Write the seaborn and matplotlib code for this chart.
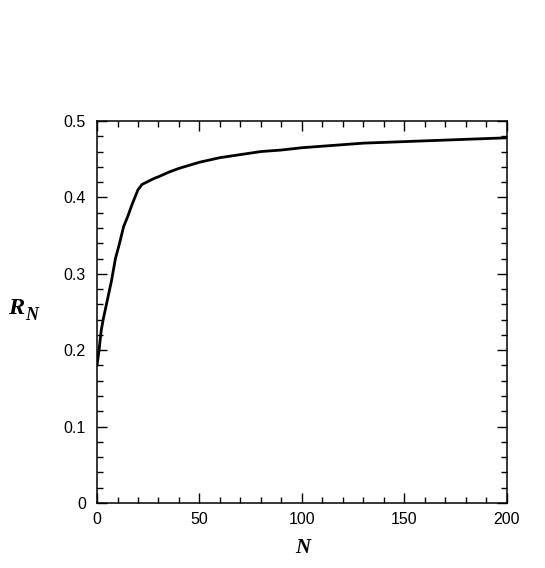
import numpy as np
import pandas as pd
import matplotlib
matplotlib.use("Agg")
import matplotlib.pyplot as plt
from matplotlib.ticker import MultipleLocator, FuncFormatter
import seaborn as sns

N_vals = [0, 1, 2, 3, 5, 7, 9, 11, 13, 15, 17, 20, 22, 25, 28, 30, 35, 40, 45, 50,
          55, 60, 70, 80, 90, 100, 110, 120, 130, 140, 150, 160, 170, 180, 190, 200]
R_vals = [0.18, 0.20, 0.225, 0.24, 0.265, 0.29, 0.32, 0.34, 0.362, 0.375, 0.39, 0.41,
          0.417, 0.421, 0.425, 0.427, 0.433, 0.438, 0.442, 0.446, 0.449, 0.452, 0.456,
          0.46, 0.462, 0.465, 0.467, 0.469, 0.471, 0.472, 0.473, 0.474, 0.475, 0.476,
          0.477, 0.478]

sns.set_style("ticks")
plt.rcParams['font.family'] = ['Liberation Sans', 'DejaVu Sans']
plt.rcParams['text.color'] = 'black'

df = pd.DataFrame({"N": N_vals, "R": R_vals})

W, H = 545, 568
fig = plt.figure(figsize=(W / 100, H / 100), dpi=100)
ax = fig.add_axes([0.178, 0.1144, 0.752, 0.6726])
sns.lineplot(data=df, x="N", y="R", ax=ax, color="black", linewidth=2.0)

ax.set_xlim(0, 200)
ax.set_ylim(0, 0.5)
ax.xaxis.set_major_locator(MultipleLocator(50))
ax.xaxis.set_minor_locator(MultipleLocator(10))
ax.yaxis.set_major_locator(MultipleLocator(0.1))
ax.yaxis.set_minor_locator(MultipleLocator(0.02))
ax.yaxis.set_major_formatter(FuncFormatter(lambda v, p: "0" if abs(v) < 1e-9 else f"{v:.1f}"))
ax.tick_params(which='both', direction='in', top=True, right=True, colors='black',
               labelsize=11.5, width=1.0)
ax.tick_params(axis='x', which='major', pad=6.5)
ax.tick_params(axis='y', which='major', pad=8)
ax.tick_params(which='major', length=7)
ax.tick_params(which='minor', length=4)
for s in ax.spines.values():
    s.set_linewidth(1.1)
    s.set_color('black')

ax.set_xlabel("")
ax.set_ylabel("")

serif = dict(family=['Liberation Serif', 'DejaVu Serif'], weight='bold', style='italic',
             color='black')
fig.text(303 / W, 1 - 548 / H, "N", ha='center', va='center', fontsize=15, **serif)
fig.text(16 / W, 1 - 308.5 / H, "R", ha='center', va='center', fontsize=17.5, **serif)
fig.text(32 / W, 1 - 315 / H, "N", ha='center', va='center', fontsize=13, **serif)

fig.savefig("out.png", dpi=100)
